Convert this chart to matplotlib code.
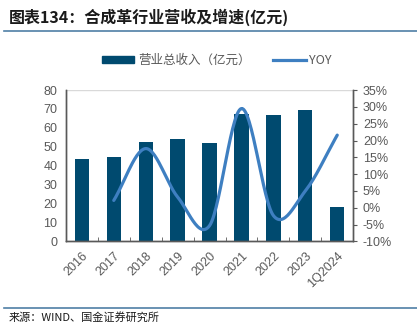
import numpy as np
import matplotlib.pyplot as plt
from matplotlib.lines import Line2D
from matplotlib.patches import Patch

plt.rcParams['font.family'] = ['Noto Sans CJK SC', 'DejaVu Sans']

years = ["2016", "2017", "2018", "2019", "2020", "2021", "2022", "2023", "1Q2024"]
revenue = [43.5, 44.5, 52.5, 54.0, 52.0, 67.2, 67.0, 69.4, 18.3]
yoy_years = ["2017", "2018", "2019", "2020", "2021", "2022", "2023", "1Q2024"]
yoy = [2.2, 17.6, 3.2, -5.3, 29.5, -2.3, 5.0, 21.6]

bar_color = "#004a6f"
line_color = "#3e7fc1"
text_gray = "#595959"


def smooth(x, y, n=30):
    # Catmull-Rom spline through the points, like a smoothed office chart line
    x = np.asarray(x, float)
    y = np.asarray(y, float)
    px = np.concatenate([[2 * x[0] - x[1]], x, [2 * x[-1] - x[-2]]])
    py = np.concatenate([[2 * y[0] - y[1]], y, [2 * y[-1] - y[-2]]])
    xs, ys = [], []
    t = np.linspace(0, 1, n)
    for i in range(1, len(px) - 2):
        for p, out in ((px, xs), (py, ys)):
            p0, p1, p2, p3 = p[i - 1], p[i], p[i + 1], p[i + 2]
            out.extend(0.5 * (2 * p1 + (-p0 + p2) * t
                              + (2 * p0 - 5 * p1 + 4 * p2 - p3) * t ** 2
                              + (-p0 + 3 * p1 - 3 * p2 + p3) * t ** 3))
    return np.array(xs), np.array(ys)


fig = plt.figure(figsize=(4.17, 3.25), dpi=100)
ax = fig.add_axes([0.158, 0.257, 0.689, 0.466])
ax2 = ax.twinx()

x = np.arange(len(years))
ax.bar(x, revenue, width=0.45, color=bar_color, zorder=2)
ax.set_xlim(-0.5, len(years) - 0.5)
ax.set_ylim(0, 80)
ax.set_yticks(range(0, 81, 10))
ax.axhline(80, color="#d9d9d9", lw=1, zorder=1)
ax.set_xticks(x)
ax.set_xticklabels(years, rotation=45, ha="right", rotation_mode="anchor")
ax.set_xticks(np.arange(0.5, len(years) - 0.5), minor=True)
ax.tick_params(axis="x", which="major", length=0, pad=6)
ax.tick_params(axis="x", which="minor", direction="in", length=3, color=text_gray)
ax.tick_params(axis="y", length=0, pad=6)

xi = [years.index(y) for y in yoy_years]
sx, sy = smooth(xi, yoy)
ax2.plot(sx, sy, color=line_color, lw=2.3, solid_capstyle="round", zorder=3)
ax2.set_ylim(-10, 35)
ax2.set_yticks(range(-10, 36, 5))
ax2.set_yticklabels([f"{v}%" for v in range(-10, 36, 5)])
ax2.tick_params(axis="y", direction="out", length=3, color=text_gray, pad=4)

for a in (ax, ax2):
    a.tick_params(labelsize=9, labelcolor=text_gray)
    for s in a.spines.values():
        s.set_color(text_gray)
        s.set_linewidth(1)
    a.spines["top"].set_visible(False)
    a.patch.set_visible(False)
for lbl in ax.get_xticklabels():
    lbl.set_fontfamily(['Liberation Sans', 'DejaVu Sans'])
for lbl in ax.get_yticklabels() + ax2.get_yticklabels():
    lbl.set_fontfamily(['Liberation Sans', 'DejaVu Sans'])

handles = [Patch(color=bar_color), Line2D([], [], color=line_color, lw=2.3)]
fig.legend(handles, ["营业总收入（亿元）", "YOY"], loc="center", bbox_to_anchor=(0.52, 0.815),
           ncol=2, frameon=False, fontsize=9, labelcolor=text_gray,
           handlelength=2.6, handleheight=0.5, columnspacing=1.8, handletextpad=0.3)

fig.text(0.02, 0.948, "图表134：合成革行业营收及增速(亿元)", fontsize=11.5,
         fontweight="bold", color="#1a1a1a", va="center", ha="left", style="italic")
fig.add_artist(Line2D([0.01, 1], [0.905, 0.905], color="#4f7fa6", lw=1.2))
fig.add_artist(Line2D([0.01, 1], [0.053, 0.053], color="#4f7fa6", lw=1.2))
fig.text(0.02, 0.022, "来源：WIND、国金证券研究所", fontsize=8, color="#1a1a1a",
         va="center", ha="left")

fig.savefig("out.png", dpi=100)
